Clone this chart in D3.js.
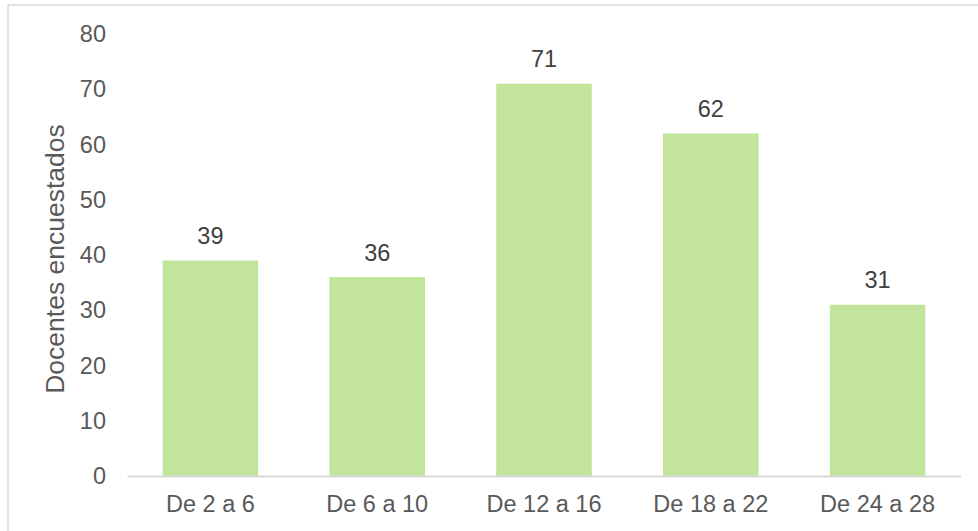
<!DOCTYPE html>
<html><head><meta charset="utf-8">
<script src="https://cdn.jsdelivr.net/npm/d3@7"></script>
<style>html,body{margin:0;padding:0;background:#fff}svg{display:block}</style>
</head><body>
<script>
const categories = ["De 2 a 6","De 6 a 10","De 12 a 16","De 18 a 22","De 24 a 28"];
const values = [39,36,71,62,31];
const yTicks = [0,10,20,30,40,50,60,70,80];
const yTitle = "Docentes encuestados";

const W = 978, H = 531;
const svg = d3.select("body").append("svg").attr("width",W).attr("height",H);
svg.append("rect").attr("x",8).attr("y",5).attr("width",W+10).attr("height",H+10)
  .attr("fill","#fff").attr("stroke","#d9d9d9").attr("stroke-width",1.5);

const x = d3.scaleBand().domain(categories).range([127,961]).paddingInner(0.427).paddingOuter(0.2135);
const y = d3.scaleLinear().domain([0,80]).range([476,34]);
const font = "'Liberation Sans', Arial, sans-serif";

svg.selectAll("rect.bar").data(values).join("rect").attr("class","bar")
  .attr("x",(d,i)=>x(categories[i])).attr("width",x.bandwidth())
  .attr("y",d=>y(d)).attr("height",d=>y(0)-y(d)).attr("fill","#c3e59b");

const ya = svg.append("g").attr("transform","translate(127,0)")
  .call(d3.axisLeft(y).tickValues(yTicks).tickSize(0).tickPadding(21));
ya.select(".domain").remove();
ya.selectAll("text").attr("font-family",font).attr("font-size",23.5).attr("fill","#595959");

const xa = svg.append("g").attr("transform","translate(0,476)")
  .call(d3.axisBottom(x).tickSize(0).tickPadding(19));
xa.select(".domain").attr("stroke","#d9d9d9").attr("stroke-width",2);
xa.selectAll("text").attr("font-family",font).attr("font-size",23.5).attr("fill","#595959");

svg.selectAll("text.lbl").data(values).join("text").attr("class","lbl")
  .attr("x",(d,i)=>x(categories[i])+x.bandwidth()/2).attr("y",d=>y(d)-16.5)
  .attr("text-anchor","middle").attr("font-family",font).attr("font-size",23.5)
  .attr("fill","#404040").text(d=>d);

svg.append("text").attr("transform","translate(64,259) rotate(-90)")
  .attr("text-anchor","middle").attr("font-family",font).attr("font-size",26.5)
  .attr("fill","#595959").text(yTitle);
</script>
</body></html>
